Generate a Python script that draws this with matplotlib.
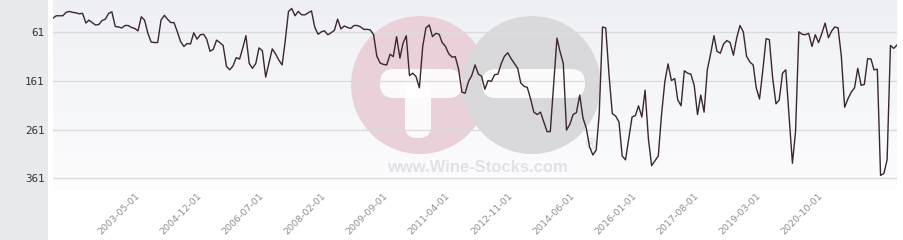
import numpy as np
import pandas as pd
import matplotlib
matplotlib.use("Agg")
import matplotlib.pyplot as plt
from matplotlib.patches import Circle, FancyBboxPatch, Rectangle
from matplotlib.transforms import Affine2D

# ---- data -------------------------------------------------------------
start_date = "2001-04-01"
ranks = [
    32, 27, 27, 27, 20, 18, 20, 21, 23, 22,
    42, 36, 41, 46, 45, 37, 34, 22, 19, 49,
    50, 52, 47, 47, 51, 53, 58, 29, 36, 63,
    81, 82, 82, 36, 26, 34, 41, 41, 60, 80,
    90, 84, 85, 62, 75, 66, 65, 75, 100, 96,
    77, 82, 88, 131, 138, 130, 113, 116, 92, 68,
    125, 135, 125, 93, 99, 153, 124, 95, 105, 118,
    128, 80, 18, 12, 27, 18, 25, 25, 21, 17,
    50, 65, 60, 58, 66, 62, 57, 34, 54, 48,
    51, 53, 47, 47, 50, 55, 55, 56, 66, 110,
    124, 127, 128, 106, 111, 70, 114, 84, 68, 150,
    145, 152, 175, 90, 52, 46, 70, 63, 65, 82,
    90, 105, 112, 111, 137, 184, 186, 162, 150, 128,
    147, 151, 178, 160, 162, 148, 147, 125, 110, 103,
    115, 125, 135, 165, 172, 174, 198, 225, 230, 225,
    245, 265, 265, 170, 73, 100, 125, 262, 250, 230,
    226, 190, 237, 258, 296, 313, 303, 230, 50, 52,
    150, 228, 233, 245, 315, 323, 280, 235, 232, 212,
    235, 180, 280, 335, 325, 315, 230, 162, 126, 160,
    156, 200, 212, 140, 145, 147, 170, 230, 190, 225,
    138, 105, 68, 100, 104, 85, 78, 82, 108, 72,
    47, 60, 110, 122, 128, 175, 198, 140, 74, 76,
    155, 208, 200, 145, 138, 235, 330, 265, 60, 65,
    66, 63, 90, 66, 82, 63, 42, 72, 58, 50,
    52, 110, 215, 198, 184, 175, 135, 170, 168, 115,
    116, 138, 137, 355, 351, 323, 88, 94, 87,
]
y_ticks = [61, 161, 261, 361]
x_tick_labels = ["2003-05-01", "2004-12-01", "2006-07-01", "2008-02-01",
                 "2009-09-01", "2011-04-01", "2012-11-01", "2014-06-01",
                 "2016-01-01", "2017-08-01", "2019-03-01", "2020-10-01"]
watermark_text = "www.Wine-Stocks.com"

dates = pd.date_range(start_date, periods=len(ranks), freq="MS")
tick_dates = pd.to_datetime(x_tick_labels)

# ---- figure -----------------------------------------------------------
W, H = 904, 240
fig = plt.figure(figsize=(W / 100, H / 100), dpi=100)
fig.patch.set_facecolor("white")

# left grey panel (behind the axes)
fig.patches.append(Rectangle((0, 0), 48 / W, 1, transform=fig.transFigure,
                             facecolor="#e7eaed", edgecolor="none", zorder=-5))

ax_left, ax_right, ax_top, ax_bot = 53, 897, 0, 190
ax = fig.add_axes([ax_left / W, 1 - ax_bot / H, (ax_right - ax_left) / W,
                   (ax_bot - ax_top) / H])
ax.set_facecolor("none")

# gradient background
grad = np.linspace(0, 1, 256).reshape(-1, 1)
top = np.array([238, 240, 245]) / 255
bot = np.array([253, 253, 254]) / 255
img = top[None, None, :] * (1 - grad[..., None]) + bot[None, None, :] * grad[..., None]
ax.imshow(img, extent=[0, 1, 0, 1], transform=ax.transAxes, aspect="auto",
          zorder=0, interpolation="bilinear")

# pixel-coordinate transform for the watermark
pix = Affine2D().scale(1 / W, -1 / H).translate(0, 1) + fig.transFigure

pink = "#e9d0d9"
grey = "#d9d9dc"
ax.add_patch(Circle((420, 85), 69, transform=pix, facecolor=pink,
                    edgecolor="none", zorder=0.3, clip_on=False))
ax.add_patch(FancyBboxPatch((380, 69), 82, 29, boxstyle="round,pad=0,rounding_size=14",
                            transform=pix, facecolor="white", edgecolor="none",
                            zorder=0.31, clip_on=False, alpha=0.9))
ax.add_patch(FancyBboxPatch((405, 80), 26, 58, boxstyle="round,pad=0,rounding_size=12",
                            transform=pix, facecolor="white", edgecolor="none",
                            zorder=0.31, clip_on=False, alpha=0.9))
ax.add_patch(Circle((532, 85), 69, transform=pix, facecolor=grey,
                    edgecolor="none", zorder=0.32, clip_on=False))
ax.add_patch(FancyBboxPatch((482, 69), 103, 29, boxstyle="round,pad=0,rounding_size=14",
                            transform=pix, facecolor="white", edgecolor="none",
                            zorder=0.33, clip_on=False, alpha=0.9))
ax.text(477, 167, watermark_text, transform=pix, ha="center", va="center",
        fontsize=12, fontweight="bold", family="Liberation Sans",
        color="#e2e2e5", zorder=0.34)
ax.text(591, 145, "®", transform=pix, ha="center", va="center",
        fontsize=10, family="Liberation Sans", color="#d6d6da", zorder=0.34)

# line
ax.plot(dates, ranks, color="#3b2630", lw=1.0, zorder=3)

ax.set_xlim(dates[0], dates[-1])
ax.set_ylim(385, -5.4)
ax.set_yticks(y_ticks)
ax.set_yticklabels([str(v) for v in y_ticks], family="DejaVu Sans Mono",
                   fontsize=7.8, color="#333333")
ax.yaxis.grid(True, color="#dcdcdc", lw=1.0)
for gl in ax.get_ygridlines():
    gl.set_zorder(1)
ax.tick_params(axis="y", length=0, pad=6)

ax.set_xticks(tick_dates)
ax.set_xticklabels(x_tick_labels, rotation=45, ha="right", va="top",
                   rotation_mode="anchor", fontsize=6.8, color="#8f8f8f")
ax.tick_params(axis="x", length=0, pad=1)

for s in ax.spines.values():
    s.set_visible(False)

fig.savefig("out.png", dpi=100)
